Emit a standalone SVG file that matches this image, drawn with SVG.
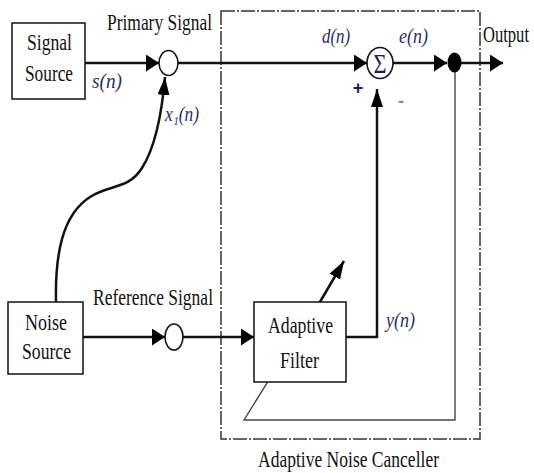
<svg xmlns="http://www.w3.org/2000/svg" width="534" height="473" viewBox="0 0 534 473">
<style>
.t{font-family:"Liberation Serif","Times New Roman",serif;font-size:23px;fill:#111}
.v{font-family:"Liberation Serif","DejaVu Serif","Times New Roman",serif;font-size:22px;font-style:italic;fill:#27305f}
.box{fill:#fff;stroke:#111;stroke-width:1.5}
.j{fill:#fff;stroke:#111;stroke-width:1.6}
.w{fill:none;stroke:#111;stroke-width:2.5}
.thin{fill:none;stroke:#444;stroke-width:1.4}
</style>
<defs>
<marker id="ah" markerUnits="userSpaceOnUse" markerWidth="14" markerHeight="17" refX="13" refY="8.5" orient="auto"><path d="M0,0 L13,8.5 L0,17 z" fill="#000"/></marker>
<marker id="av" markerUnits="userSpaceOnUse" markerWidth="19" markerHeight="12" refX="18" refY="6" orient="auto"><path d="M0,0 L18,6 L0,12 z" fill="#000"/></marker>
</defs>
<rect x="221" y="11" width="259" height="428" fill="none" stroke="#333" stroke-width="1.5" stroke-dasharray="14 2 2 2"/>
<g id="connectors">
<path class="w" d="M85,63 L159,63" marker-end="url(#ah)"/>
<path class="w" d="M178,63 L367,63" marker-end="url(#ah)"/>
<path class="w" d="M393,63 L447,63" marker-end="url(#ah)"/>
<path class="w" d="M461,63 L503,63" marker-end="url(#ah)"/>
<path class="w" d="M56,302 C55,255 62,215 90,197 C110,184 128,190 142,168 C156,146 162,112 165,77" marker-end="url(#av)"/>
<path class="w" d="M83,337 L165,337" marker-end="url(#ah)"/>
<path class="w" d="M183,337 L254,337" marker-end="url(#ah)"/>
<path class="w" d="M346,337 L377,337 L377,89" stroke-width="2.2" marker-end="url(#av)"/>
<path class="thin" d="M455,63 L455,420 L244,420 L277,367"/>
<path class="w" d="M317,307 L344,261" marker-end="url(#av)"/>
</g>
<g id="signal-source">
<rect class="box" x="12" y="23" width="73" height="76"/>
<text class="t" x="27" y="50" textLength="45" lengthAdjust="spacingAndGlyphs">Signal</text>
<text class="t" x="25" y="81" textLength="48" lengthAdjust="spacingAndGlyphs">Source</text>
</g>
<g id="primary-sum">
<ellipse class="j" cx="168.5" cy="63" rx="9.5" ry="12.5"/>
<text class="t" x="107" y="30" textLength="105" lengthAdjust="spacingAndGlyphs">Primary Signal</text>
</g>
<g id="noise-source">
<rect class="box" x="8" y="302" width="75" height="72"/>
<text class="t" x="25" y="330" textLength="42" lengthAdjust="spacingAndGlyphs">Noise</text>
<text class="t" x="22" y="359" textLength="49" lengthAdjust="spacingAndGlyphs">Source</text>
</g>
<g id="reference-sum">
<ellipse class="j" cx="174" cy="337" rx="9" ry="13"/>
<text class="t" x="93" y="305" textLength="120" lengthAdjust="spacingAndGlyphs">Reference Signal</text>
</g>
<g id="adaptive-filter">
<rect class="box" x="254" y="302" width="92" height="80"/>
<text class="t" x="268" y="333" textLength="65" lengthAdjust="spacingAndGlyphs">Adaptive</text>
<text class="t" x="280" y="368" textLength="39" lengthAdjust="spacingAndGlyphs">Filter</text>
</g>
<g id="summer">
<ellipse class="j" cx="380" cy="63" rx="13" ry="15.5"/>
<text x="380" y="73" text-anchor="middle" font-family="Liberation Serif, serif" font-size="27" fill="#1a2350" textLength="13" lengthAdjust="spacingAndGlyphs">Σ</text>
<text x="358" y="94" text-anchor="middle" font-family="Liberation Sans, sans-serif" font-size="18" font-weight="bold" fill="#1a2350">+</text>
<text x="401" y="107" text-anchor="middle" font-family="Liberation Sans, sans-serif" font-size="18" font-weight="bold" fill="#888">-</text>
</g>
<g id="output-node">
<ellipse cx="454.5" cy="62.5" rx="7" ry="10" fill="#000"/>
<text class="t" transform="translate(483,42) scale(0.72,1)">Output</text>
</g>
<g id="labels">
<text class="v" x="92" y="88" textLength="30" lengthAdjust="spacingAndGlyphs">s(n)</text>
<text class="v" x="165" y="121" textLength="34" lengthAdjust="spacingAndGlyphs">x₁(n)</text>
<text class="v" x="322" y="43" textLength="28" lengthAdjust="spacingAndGlyphs">d(n)</text>
<text class="v" x="399" y="43" textLength="29" lengthAdjust="spacingAndGlyphs">e(n)</text>
<text class="v" x="386" y="327" textLength="29" lengthAdjust="spacingAndGlyphs">y(n)</text>
<text class="t" x="258" y="467" textLength="181" lengthAdjust="spacingAndGlyphs">Adaptive Noise Canceller</text>
</g>
</svg>
